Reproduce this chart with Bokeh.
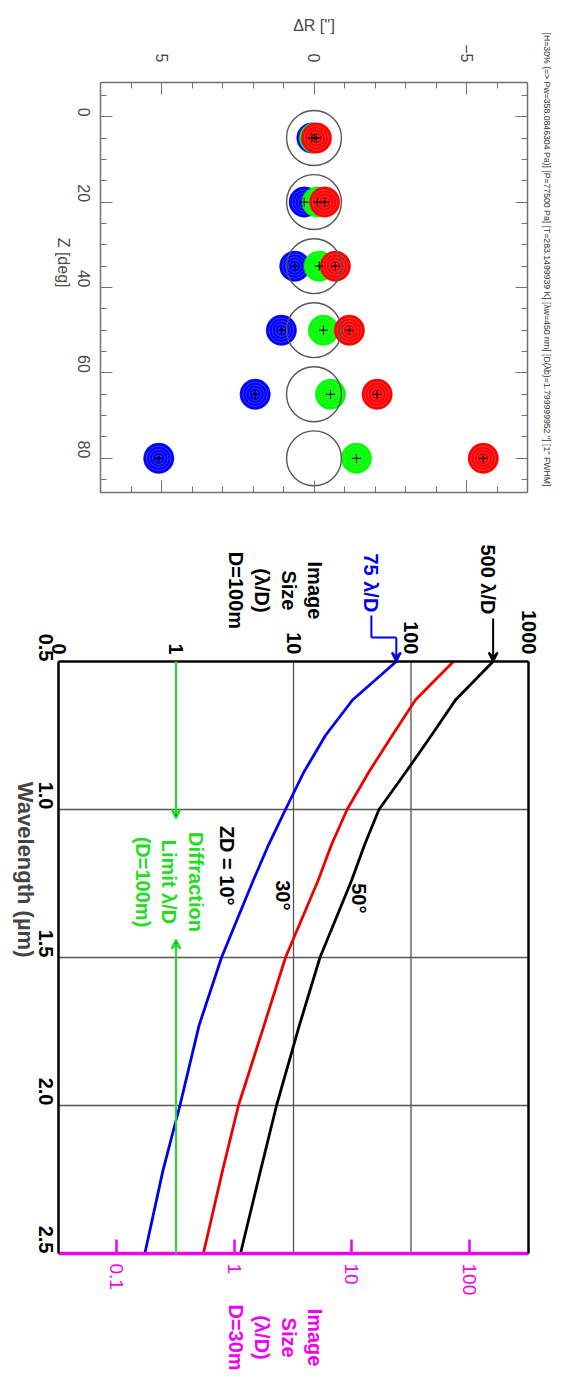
import math
from bokeh.plotting import figure
from bokeh.layouts import column
from bokeh.models import (Range1d, LinearAxis, LogAxis, LogScale, SingleIntervalTicker,
                          FixedTicker, Label, Arrow, VeeHead, CustomJSTickFormatter)
from bokeh.embed import file_html
from bokeh.resources import INLINE

# ---------------- data: top chart (differential refraction) ----------------
zenith_deg = [5, 20, 35, 50, 65, 80]
dR_blue = [0.07, 0.32, 0.63, 1.07, 1.93, 5.09]
dR_green = [-0.02, -0.11, -0.17, -0.31, -0.54, -1.39]
dR_red = [-0.08, -0.35, -0.70, -1.16, -2.07, -5.55]
dR_ref = [0, 0, 0, 0, 0, 0]
seeing_fwhm = 1.0          # arcsec
ref_diameter = 1.799999952  # arcsec
top_title = ("[H=30% (=> Pw=358.0846304 Pa)] [P=77500 Pa] [T=283.1499939 K] "
             "[λw=450 nm] [D(λb)=1.799999952 ''] [1'' FWHM]")

# ---------------- data: bottom chart (image size vs wavelength) -------------
wavelength_um = [0.5, 0.63, 0.75, 0.875, 1.0, 1.12, 1.24, 1.5, 1.73, 2.0, 2.22, 2.5]
size_zd10 = [75, 31.8, 18.7, 12.2, 8.55, 6.12, 4.54, 2.44, 1.57, 1.08, 0.774, 0.543]
size_zd30 = [230, 109, 69.2, 43.5, 28.6, 21.0, 16.2, 8.55, 5.61, 3.40, 2.49, 1.71]
size_zd50 = [500, 239, 149, 89.8, 53.4, 40.2, 31.2, 16.8, 11.2, 7.17, 5.24, 3.54]
diff_limit_100m = 1.0
ticks_d100 = [0.1, 1, 10, 100, 1000]
labels_d100 = ["0", "1", "10", "100", "1000"]
ticks_d30 = [0.1, 1, 10, 100]
labels_d30 = ["0.1", "1", "10", "100"]
wl_ticks = [0.5, 1.0, 1.5, 2.0, 2.5]
wl_labels = ["0.5", "1.0", "1.5", "2.0", "2.5"]
grid_size = [10, 100]
grid_wl = [1.0, 1.5, 2.0]
d30_per_d100 = 0.32

ROT = -math.pi / 2
FONT = "Liberation Sans"
NOLABEL = CustomJSTickFormatter(code="return ''")

# Both frames fill their whole canvas; each visible plot box is drawn by axes placed
# at fixed data locations, so that texts outside the box are not clipped.

# =========================== top figure ===========================
GRAY = "#707070"
TXT = "#4a4a4a"
DR0, DR1, Z0, Z1 = 7, -7, -8, 88          # box: left, right, top, bottom
BW1, BH1 = 427, 410                       # visible box, px
P1L, P1R, P1T, P1B = 100, 39, 82, 36
W1, H1 = BW1 + P1L + P1R, BH1 + P1T + P1B
px_dr = BW1 / (DR0 - DR1)
px_z = BH1 / (Z1 - Z0)
p1 = figure(frame_width=W1, frame_height=H1, min_border=0,
            x_range=Range1d(DR0 + P1L / px_dr, DR1 - P1R / px_dr),
            y_range=Range1d(Z1 + P1B / px_z, Z0 - P1T / px_z),
            x_axis_location=None, y_axis_location=None,
            output_backend="svg", toolbar_location=None)
p1.outline_line_color = None
p1.center = []


def tick_axis(ax):
    ax.axis_line_color = GRAY
    ax.axis_line_width = 1.5
    ax.major_tick_line_color = GRAY
    ax.minor_tick_line_color = GRAY
    ax.major_tick_in = 12
    ax.major_tick_out = 0
    ax.minor_tick_in = 6
    ax.minor_tick_out = 0
    ax.major_label_text_font = FONT
    ax.major_label_text_color = TXT
    ax.major_label_text_font_size = "16px"
    ax.axis_label_text_font = FONT
    ax.axis_label_text_color = TXT
    ax.axis_label_text_font_style = "normal"
    ax.axis_label_text_font_size = "16px"
    return ax


dr_ticker = SingleIntervalTicker(interval=5, num_minor_ticks=5)
z_ticker = SingleIntervalTicker(interval=20, num_minor_ticks=4)
dr_bounds = (min(DR0, DR1), max(DR0, DR1))
z_bounds = (Z0, Z1)

ax_top = tick_axis(LinearAxis(ticker=dr_ticker, axis_label="ΔR ['']", fixed_location=Z0,
                              bounds=dr_bounds))
ax_top.major_label_orientation = ROT
ax_top.major_label_overrides = {-5: "−5", 0: "0", 5: "5"}
ax_top.major_label_standoff = 20
ax_top.axis_label_standoff = 7
p1.add_layout(ax_top, "above")

ax_bot = tick_axis(LinearAxis(ticker=dr_ticker, formatter=NOLABEL, fixed_location=Z1,
                              bounds=dr_bounds))
ax_bot.major_label_standoff = 0
p1.add_layout(ax_bot, "below")

ax_left = tick_axis(LinearAxis(ticker=z_ticker, axis_label="Z [deg]", fixed_location=DR0,
                               bounds=z_bounds))
ax_left.major_label_orientation = ROT
ax_left.major_label_standoff = 17
ax_left.axis_label_standoff = 5
ax_left.axis_label_orientation = ROT
p1.add_layout(ax_left, "left")

ax_right = tick_axis(LinearAxis(ticker=z_ticker, formatter=NOLABEL, fixed_location=DR1,
                                bounds=z_bounds))
ax_right.major_label_standoff = 0
p1.add_layout(ax_right, "right")

disk_r = seeing_fwhm / 2
for xs, col in ((dR_blue, "#0000ff"), (dR_green, "#00ff00"), (dR_red, "#ff0000")):
    p1.circle(x=xs, y=zenith_deg, radius=disk_r, fill_color=col, line_color=col,
              line_alpha=0.4, line_width=1)
    for k in range(1, 5):
        p1.circle(x=xs, y=zenith_deg, radius=disk_r * k / 5, fill_color=None,
                  line_color="white", line_alpha=0.28, line_width=0.8)
p1.circle(x=dR_ref, y=zenith_deg, radius=ref_diameter / 2, fill_color=None,
          line_color="#555555", line_width=1.4)
for xs in (dR_blue, dR_green, dR_red):
    p1.scatter(x=xs, y=zenith_deg, marker="cross", size=9, line_color="black",
               line_width=1)

# title strip to the right of the box
p1.add_layout(Label(x=DR1 - 19.5 / px_dr, y=Z0 + 177 / px_z, text=top_title, angle=ROT,
                    text_align="center", text_baseline="middle", text_font=FONT,
                    text_font_size="8.7px", text_color="#333333"))

# =========================== bottom figure ===========================
X0, X1, WL0, WL1 = 0.1, 1000, 0.5, 2.5
BW2, BH2 = 470, 592                      # visible box, px
P2L, P2R, P2T, P2B = 58, 38, 133, 135
W2, H2 = BW2 + P2L + P2R, BH2 + P2T + P2B
px_dec = BW2 / (math.log10(X1) - math.log10(X0))
px_um = BH2 / (WL1 - WL0)
x_lo = 10 ** (math.log10(X0) - P2L / px_dec)
x_hi = 10 ** (math.log10(X1) + P2R / px_dec)

p2 = figure(frame_width=W2, frame_height=H2, min_border=0,
            x_range=Range1d(x_lo, x_hi),
            y_range=Range1d(WL1 + P2B / px_um, WL0 - P2T / px_um),
            x_axis_type="log", x_axis_location=None, y_axis_location=None,
            extra_x_ranges={"d30": Range1d(x_lo * d30_per_d100, x_hi * d30_per_d100)},
            extra_x_scales={"d30": LogScale()},
            output_backend="svg", toolbar_location=None)
p2.outline_line_color = None
p2.center = []
MAG = "#f000f0"
BFS = "20px"


def bold_axis(ax, color="black", lw=2.5):
    ax.axis_line_color = color
    ax.axis_line_width = lw
    ax.major_tick_out = 0
    ax.major_tick_in = 0
    ax.minor_tick_out = 0
    ax.minor_tick_in = 0
    ax.major_label_text_font = FONT
    ax.major_label_text_font_style = "bold"
    ax.major_label_text_font_size = BFS
    ax.major_label_text_color = color
    ax.major_label_orientation = ROT
    return ax


ax2_top = bold_axis(LogAxis(ticker=FixedTicker(ticks=ticks_d100), fixed_location=WL0,
                            bounds=(X0, X1)))
ax2_top.major_label_overrides = dict(zip(ticks_d100, labels_d100))
ax2_top.major_label_standoff = 7
p2.add_layout(ax2_top, "above")

ax2_left = bold_axis(LinearAxis(ticker=FixedTicker(ticks=wl_ticks), fixed_location=X0,
                                bounds=(WL0, WL1), axis_label="Wavelength (µm)"))
ax2_left.major_label_overrides = dict(zip(wl_ticks, wl_labels))
ax2_left.major_label_standoff = 13
ax2_left.axis_label_text_font = FONT
ax2_left.axis_label_text_font_style = "bold"
ax2_left.axis_label_text_font_size = "22px"
ax2_left.axis_label_standoff = 3
ax2_left.axis_label_orientation = ROT
p2.add_layout(ax2_left, "left")

ax2_right = bold_axis(LinearAxis(ticker=FixedTicker(ticks=[]), formatter=NOLABEL,
                                 fixed_location=X1, bounds=(WL0, WL1)))
ax2_right.major_label_standoff = 0
p2.add_layout(ax2_right, "right")

ax2_bot = bold_axis(LogAxis(x_range_name="d30", ticker=FixedTicker(ticks=ticks_d30),
                            fixed_location=WL1,
                            bounds=(X0 * d30_per_d100, X1 * d30_per_d100)),
                    color=MAG, lw=3.5)
ax2_bot.major_label_overrides = dict(zip(ticks_d30, labels_d30))
ax2_bot.major_tick_in = 14
ax2_bot.major_tick_line_color = MAG
ax2_bot.major_tick_line_width = 2.5
ax2_bot.major_label_standoff = 10
ax2_bot.major_label_text_font_size = "19px"
ax2_bot.major_label_text_font_style = "normal"
p2.add_layout(ax2_bot, "below")

GRID = "#555555"
p2.segment(x0=grid_size, y0=[WL0] * len(grid_size), x1=grid_size, y1=[WL1] * len(grid_size),
           line_color=GRID, line_width=1.3)
p2.segment(x0=[X0] * len(grid_wl), y0=grid_wl, x1=[X1] * len(grid_wl), y1=grid_wl,
           line_color=GRID, line_width=1.3)

GREEN = "#22dd22"
BLUE = "#0000ee"


def arrow(v0, l0, v1, l1, color, head=True):
    p2.add_layout(Arrow(x_start=v0, y_start=l0, x_end=v1, y_end=l1,
                        line_color=color, line_width=2,
                        end=VeeHead(size=9, line_color=color, line_width=2) if head else None))


arrow(diff_limit_100m, WL0, diff_limit_100m, 1.03, GREEN)
arrow(diff_limit_100m, WL1, diff_limit_100m, 1.44, GREEN)

p2.line(x=size_zd10, y=wavelength_um, line_color=BLUE, line_width=2.8, line_join="round")
p2.line(x=size_zd30, y=wavelength_um, line_color="#ee0000", line_width=2.8,
        line_join="round")
p2.line(x=size_zd50, y=wavelength_um, line_color="black", line_width=2.8,
        line_join="round")


def blabel(v, lam, text, color="black", size="20px", align="center"):
    p2.add_layout(Label(x=v, y=lam, text=text, angle=ROT, text_align=align,
                        text_baseline="middle", text_font=FONT, text_font_style="bold",
                        text_font_size=size, text_color=color))


blabel(0.88, 1.245, "Diffraction\nLimit λ/D\n(D=100m)", color=GREEN)
blabel(2.74, 1.19, "ZD = 10°")
blabel(8.2, 1.29, "30°")
blabel(36, 1.30, "50°")
blabel(7.0, 0.26, "Image\nSize\n(λ/D)\nD=100m")
blabel(7.0, 2.784, "Image\nSize\n(λ/D)\nD=30m", color=MAG)

# 500 lambda/D annotation
blabel(448, 0.341, "500 λ/D", align="right")
arrow(size_zd50[0], 0.355, size_zd50[0], WL0, "black")
# 75 lambda/D annotation
blabel(46, 0.334, "75 λ/D", color=BLUE, align="right")
arrow(46, 0.345, 46, 0.419, BLUE, head=False)
arrow(46, 0.419, size_zd10[0], 0.419, BLUE, head=False)
arrow(size_zd10[0], 0.419, size_zd10[0], WL0, BLUE)

layout = column(p1, p2, spacing=0)
open("out.html", "w").write(file_html(layout, INLINE))
